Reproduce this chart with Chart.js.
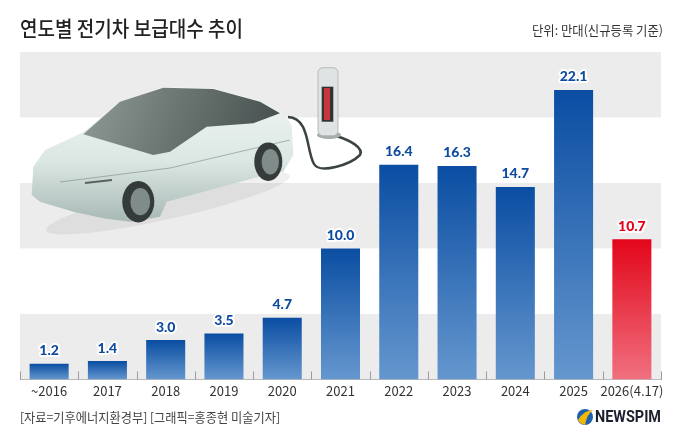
<!DOCTYPE html>
<html>
<head>
<meta charset="utf-8">
<script src="https://cdn.jsdelivr.net/npm/chart.js@4.4.1/dist/chart.umd.min.js"></script>
<style>
  html, body { margin: 0; padding: 0; background: #fff; }
  #wrap { width: 680px; height: 442px; position: relative; }
</style>
</head>
<body>
<div id="wrap"><canvas id="chart"></canvas></div>
<script>
// data (unit: 10,000 cars, new registrations)
const categories = ['~2016', '2017', '2018', '2019', '2020', '2021', '2022', '2023', '2024', '2025', '2026(4.17)'];
const values = [1.2, 1.4, 3.0, 3.5, 4.7, 10.0, 16.4, 16.3, 14.7, 22.1, 10.7];
const bandEdges = [0, 5, 10, 15, 20, 25];

const titleText = '연도별 전기차 보급대수 추이';
const unitText = '단위: 만대(신규등록 기준)';
const sourceText = '[자료=기후에너지환경부] [그래픽=홍종현 미술기자]';

const KR = '"Noto Sans CJK KR", "Noto Sans", sans-serif';

// draw text squeezed to a given width (the reference uses a condensed face)
function fitText(ctx, text, x, y, width, font, color, align) {
    ctx.save();
    ctx.font = font;
    ctx.fillStyle = color;
    ctx.textBaseline = 'middle';
    const w = ctx.measureText(text).width;
    const s = Math.min(1, width / w);
    ctx.translate(x, y);
    ctx.scale(s, 1);
    ctx.textAlign = align || 'left';
    ctx.fillText(text, 0, 0);
    ctx.restore();
}

function poly(ctx, pts) {
    ctx.beginPath();
    ctx.moveTo(pts[0][0], pts[0][1]);
    for (let i = 1; i < pts.length; i++) ctx.lineTo(pts[i][0], pts[i][1]);
    ctx.closePath();
}

// gray bands behind the bars + car illustration
const backdrop = {
    id: 'backdrop',
    beforeDatasetsDraw(chart) {
        const { ctx, chartArea, scales } = chart;
        const y = scales.y;
        ctx.save();
        ctx.fillStyle = '#ececec';
        for (let i = 0; i < bandEdges.length - 1; i += 2) {
            const top = y.getPixelForValue(bandEdges[i + 1]);
            const bot = y.getPixelForValue(bandEdges[i]);
            ctx.fillRect(chartArea.left, top, chartArea.right - chartArea.left, bot - top);
        }

        // car shadow
        ctx.fillStyle = 'rgba(0,0,0,0.06)';
        ctx.beginPath();
        ctx.ellipse(168, 203, 125, 16, -0.22, 0, Math.PI * 2);
        ctx.fill();

        // body
        const body = [[31.7,195],[33.3,166.7],[45,150],[83.3,132.3],[120,101.7],[163.3,87],[213.3,88.3],
            [260,101],[283.3,113.3],[291.7,125],[293.3,155],[283.3,171.7],[253.3,178.3],[166.7,201.7],
            [160,216.7],[130,221.7],[103.3,218.3],[73.3,211.7],[40,201.7]];
        const bg = ctx.createLinearGradient(0, 90, 0, 220);
        bg.addColorStop(0, '#f1f6f4');
        bg.addColorStop(0.55, '#dbe7e3');
        bg.addColorStop(1, '#a9bab6');
        ctx.fillStyle = bg;
        poly(ctx, body);
        ctx.fill();

        // glass roof and windows
        const glass = [[83.3,134.3],[120,101.7],[163.3,87.7],[213.3,89],[260,101.7],[280,113.3],
            [253.3,123.3],[206.7,126.7],[170,151.7],[153.3,155]];
        const gg = ctx.createLinearGradient(90, 90, 260, 150);
        gg.addColorStop(0, '#8e9895');
        gg.addColorStop(0.5, '#6a7572');
        gg.addColorStop(1, '#4a5351');
        ctx.fillStyle = gg;
        poly(ctx, glass);
        ctx.fill();

        // side line
        ctx.strokeStyle = 'rgba(120,140,135,0.6)';
        ctx.lineWidth = 1;
        ctx.beginPath();
        ctx.moveTo(60, 182);
        ctx.lineTo(170, 168);
        ctx.lineTo(290, 140);
        ctx.stroke();

        // wheels
        [[138.3, 201.7, 16, 20.7], [268.3, 161.7, 14, 19.3]].forEach(w => {
            ctx.fillStyle = '#353b3a';
            ctx.beginPath();
            ctx.ellipse(w[0], w[1], w[2], w[3], 0, 0, Math.PI * 2);
            ctx.fill();
            ctx.fillStyle = '#7f8c89';
            ctx.beginPath();
            ctx.ellipse(w[0] + 2, w[1], w[2] * 0.62, w[3] * 0.66, 0, 0, Math.PI * 2);
            ctx.fill();
        });

        // headlight
        ctx.strokeStyle = '#59625f';
        ctx.lineWidth = 2;
        ctx.beginPath();
        ctx.moveTo(85, 183);
        ctx.lineTo(112, 180);
        ctx.stroke();

        // charging cable
        ctx.strokeStyle = '#3c4443';
        ctx.lineWidth = 2.5;
        ctx.beginPath();
        ctx.moveTo(288, 117);
        ctx.bezierCurveTo(310, 118, 306, 150, 314, 164);
        ctx.bezierCurveTo(320, 174, 350, 165, 360, 155);
        ctx.bezierCurveTo(364, 148, 350, 140, 336, 136);
        ctx.stroke();

        // charger post
        ctx.fillStyle = '#a5acab';
        ctx.beginPath();
        ctx.ellipse(329, 135, 12, 4, 0, 0, Math.PI * 2);
        ctx.fill();
        ctx.fillStyle = '#dfe3e3';
        ctx.strokeStyle = '#b5bbba';
        ctx.lineWidth = 1;
        ctx.beginPath();
        ctx.roundRect(318, 67.7, 20, 68, 5);
        ctx.fill();
        ctx.stroke();
        ctx.fillStyle = '#2e3433';
        ctx.fillRect(321.7, 86.7, 11.6, 35);
        ctx.fillStyle = '#c8343e';
        ctx.fillRect(324, 88, 6, 32);
        ctx.restore();
    },
    afterDraw(chart) {
        const { ctx, chartArea } = chart;
        ctx.save();
        // upward tick marks on the category boundaries
        const n = categories.length;
        const step = (chartArea.right - chartArea.left) / n;
        ctx.strokeStyle = '#9c9c9c';
        ctx.lineWidth = 1;
        for (let i = 0; i <= n; i++) {
            const x = Math.round(chartArea.left + i * step) + 0.5;
            ctx.beginPath();
            ctx.moveTo(x, chartArea.bottom - 8);
            ctx.lineTo(x, chartArea.bottom);
            ctx.stroke();
        }

        // value labels
        const meta = chart.getDatasetMeta(0);
        ctx.font = '900 14px Lato, "DejaVu Sans", sans-serif';
        ctx.textAlign = 'center';
        ctx.textBaseline = 'middle';
        ctx.lineJoin = 'round';
        meta.data.forEach((bar, i) => {
            const txt = values[i].toFixed(1);
            const ty = bar.y - 13;
            ctx.strokeStyle = '#ffffff';
            ctx.lineWidth = 4;
            ctx.strokeText(txt, bar.x, ty);
            ctx.fillStyle = i === values.length - 1 ? '#e3001b' : '#0f4c9f';
            ctx.fillText(txt, bar.x, ty);
        });

        // title, unit, footer
        fitText(ctx, titleText, 20, 28, 223, '500 21px ' + KR, '#222222', 'left');
        fitText(ctx, unitText, 663, 30, 131, '400 13px ' + KR, '#333333', 'right');
        fitText(ctx, sourceText, 20, 417, 260, '400 13px ' + KR, '#444444', 'left');

        // NEWSPIM logo
        ctx.fillStyle = '#1d5fb0';
        ctx.beginPath();
        ctx.arc(585, 417, 8, 0, Math.PI * 2);
        ctx.fill();
        ctx.fillStyle = '#f2b705';
        ctx.beginPath();
        ctx.moveTo(578, 420);
        ctx.quadraticCurveTo(584, 410, 593, 410);
        ctx.quadraticCurveTo(587, 414, 585, 425);
        ctx.quadraticCurveTo(580, 424, 578, 420);
        ctx.fill();
        fitText(ctx, 'NEWSPIM', 595, 417.5, 66, 'bold 17px Roboto, sans-serif', '#1c1f2e', 'left');
        ctx.restore();
    }
};

function barFill(c) {
    const chart = c.chart;
    const last = c.dataIndex === values.length - 1;
    const top = last ? '#e3061a' : '#0a4da2';
    const bottom = last ? '#f0707f' : '#6597ce';
    if (!chart.chartArea || !chart.scales.y) return top;
    const y = chart.scales.y;
    const y0 = y.getPixelForValue(values[c.dataIndex]);
    const y1 = y.getPixelForValue(0);
    const g = chart.ctx.createLinearGradient(0, y0, 0, y1);
    g.addColorStop(0, top);
    g.addColorStop(1, bottom);
    return g;
}

new Chart(
    document.getElementById('chart'),
    {
        type: 'bar',
        plugins: [backdrop],
        data: {
            labels: categories,
            datasets: [
                {
                    label: '보급대수',
                    data: values,
                    backgroundColor: barFill,
                    borderWidth: 0,
                    barPercentage: 0.67,
                    categoryPercentage: 1
                }
            ]
        },
        options: {
            responsive: true,
            maintainAspectRatio: false,
            animation: false,
            layout: {
                padding: { top: 52, left: 20, right: 19, bottom: 39 }
            },
            plugins: {
                legend: { display: false },
                tooltip: { enabled: false },
                title: { display: false }
            },
            scales: {
                x: {
                    grid: { display: false, drawTicks: false },
                    border: { display: true, color: '#9c9c9c', width: 1 },
                    ticks: {
                        padding: 4,
                        color: '#333333',
                        font: { family: KR, size: 13 },
                        maxRotation: 0,
                        autoSkip: false
                    }
                },
                y: {
                    display: false,
                    min: 0,
                    max: 25
                }
            }
        }
    }
);
</script>
</body>
</html>
